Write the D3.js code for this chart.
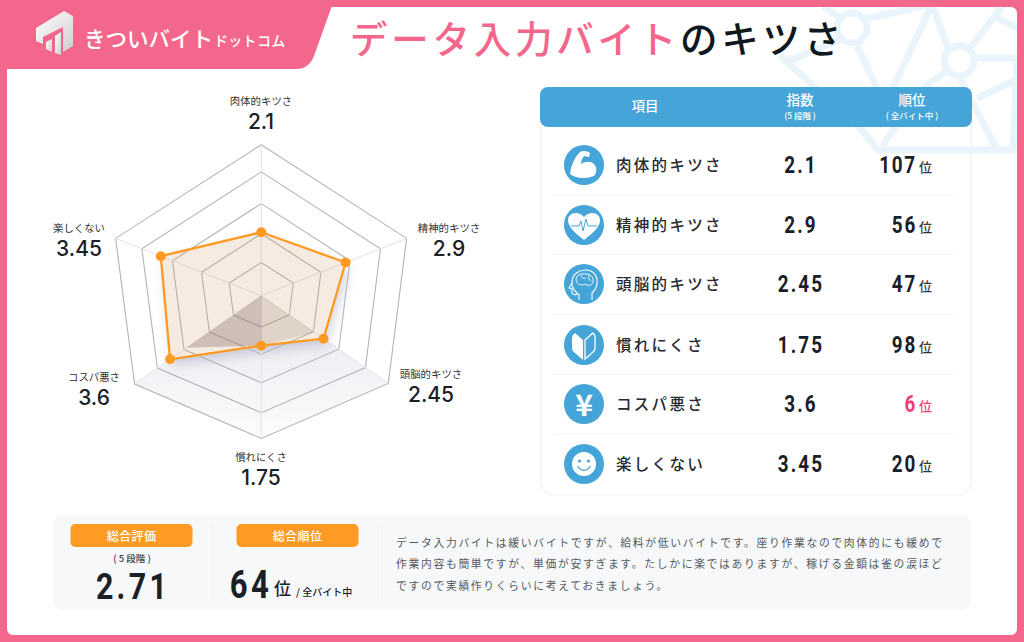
<!DOCTYPE html>
<html lang="ja">
<head>
<meta charset="utf-8">
<script src="https://cdn.jsdelivr.net/npm/d3@7"></script>
<style>
  html, body { margin: 0; padding: 0; background: #fff; overflow: hidden; }
  text { font-family: "Noto Sans CJK JP", "Noto Sans", sans-serif; }
  .num { font-family: Roboto, sans-serif; font-weight: 700; }
</style>
</head>
<body>
<div id="chart"></div>
<script>
// --- data ---
const categories = ["肉体的キツさ", "精神的キツさ", "頭脳的キツさ", "慣れにくさ", "コスパ悪さ", "楽しくない"];
const scoreLabels = ["2.1", "2.9", "2.45", "1.75", "3.6", "3.45"];
const scores = scoreLabels.map(Number);
const ranks = [107, 56, 47, 98, 6, 20];
const ringLevels = [1, 2, 3, 4, 5];
const totalScore = "2.71";
const totalRank = "64";
const comment = [
  "データ入力バイトは緩いバイトですが、給料が低いバイトです。座り作業なので肉体的にも緩めで",
  "作業内容も簡単ですが、単価が安すぎます。たしかに楽ではありますが、稼げる金額は雀の涙ほど",
  "ですので実績作りくらいに考えておきましょう。"
];

// --- layout ---
const width = 1024, height = 642;
const pink = "#f4678d", blue = "#45a5d8", orange = "#ff9a24", ink = "#1a2027";
const centre = [261.3, 295.7];
// the hexagon is drawn in perspective, so each axis has its own outer vector
const axisEnds = [[0, -151], [145.3, -57.3], [127, 87.7], [0, 142.7], [-126.7, 88.3], [-145.7, -57.3]];
const labelPos = [[261, 100], [449, 227], [431, 373], [261, 456], [94, 376], [79, 227]];
const rowY = [165, 225, 284, 345, 404, 464];

const svg = d3.select("#chart").append("svg")
  .attr("width", width).attr("height", height)
  .style("display", "block");
const defs = svg.append("defs");

// values sit on a plain 0-5 scale, the rings are a little off even in the source
const valueScale = d3.scaleLinear().domain([0, 5]).range([0, 1]);
const ringScale = d3.scaleLinear().domain([0, 1, 2, 3, 4, 5]).range([0, 0.22, 0.41, 0.61, 0.82, 1]);
const pointAt = (i, v, scale = valueScale) => [
  centre[0] + axisEnds[i][0] * scale(v),
  centre[1] + axisEnds[i][1] * scale(v)
];
const closed = d3.line().curve(d3.curveLinearClosed);

function label(g, x, y, str, size, opts = {}) {
  const t = g.append("text")
    .attr("x", x).attr("y", y)
    .attr("dominant-baseline", "central")
    .attr("text-anchor", opts.anchor || "middle")
    .attr("font-size", size)
    .attr("font-weight", opts.weight || 400)
    .attr("letter-spacing", opts.spacing || 0)
    .attr("fill", opts.fill || ink)
    .attr("class", opts.cls || null)
    .text(str);
  // numerals in the source are narrower than any installed face
  if (opts.squeeze) {
    t.attr("x", 0).attr("y", 0)
      .attr("transform", `translate(${x},${y}) scale(${opts.squeeze},1)`);
  }
  return t;
}

// --- frame ---
svg.append("rect").attr("width", width).attr("height", height).attr("fill", pink);
svg.append("rect").attr("x", 7).attr("y", 7).attr("width", 1010).attr("height", 628).attr("rx", 6).attr("fill", "#fff");
svg.append("path").attr("fill", pink)
  .attr("d", "M0,0H334L314,56Q309,69 296,69H7V80H0Z");

// background network mark
defs.append("clipPath").attr("id", "card").append("rect")
  .attr("x", 7).attr("y", 7).attr("width", 1010).attr("height", 628).attr("rx", 6);
const mark = svg.append("g").attr("clip-path", "url(#card)")
  .attr("fill", "none").attr("stroke", "#eaf5fb").attr("stroke-width", 7);
const markLines = [
  "M823,6L846,22", "M787,62L843,38", "M861,20L932,4", "M932,4L893,88", "M932,4L948,48",
  "M857,46L877,88", "M787,62L860,128L878,150H1013L1017,62", "M882,146L927,85L945,72",
  "M970,48L1004,4", "M975,58H1020", "M960,78L997,150", "M977,98L1020,78", "M993,15L1020,30", "M787,62L780,55"
];
mark.selectAll("path").data(markLines).join("path").attr("d", d => d);
mark.selectAll("circle").data([[852, 28], [959, 61]]).join("circle")
  .attr("cx", d => d[0]).attr("cy", d => d[1]).attr("r", 15).attr("fill", "#fff");

// --- logo + title ---
const logoGrad = defs.append("linearGradient").attr("id", "logoGrad")
  .attr("x1", 0).attr("y1", 0).attr("x2", 1).attr("y2", 1);
logoGrad.append("stop").attr("offset", 0).attr("stop-color", "#ffffff");
logoGrad.append("stop").attr("offset", 1).attr("stop-color", "#cfcfd2");
const logo = svg.append("g").attr("fill", "url(#logoGrad)");
logo.append("path").attr("d", "M36,28L64,11L73,16V46L63,52V27L43,37V44L36,41Z");
logo.append("path").attr("d", "M46,42L52,39V52L46,49Z");
logo.append("path").attr("d", "M55,36L61,32V55L55,53Z");
label(svg, 84, 37, "きついバイト", 21.5, { anchor: "start", fill: "#fff", weight: 500 });
label(svg, 214, 40, "ドットコム", 14, { anchor: "start", fill: "#fff", weight: 500, spacing: 0.3 });

const title = svg.append("text").attr("x", 350).attr("y", 35.5)
  .attr("dominant-baseline", "central").attr("font-size", 37.5)
  .attr("font-weight", 500).attr("letter-spacing", 3.75);
title.append("tspan").attr("fill", pink).text("データ入力バイト");
title.append("tspan").attr("fill", "#10181f").text("のキツさ");

// --- radar ---
const radar = svg.append("g");
const hexGrad = defs.append("linearGradient").attr("id", "hexGrad")
  .attr("gradientUnits", "userSpaceOnUse")
  .attr("x1", centre[0]).attr("y1", centre[1]).attr("x2", centre[0]).attr("y2", centre[1] + 142);
hexGrad.append("stop").attr("offset", 0).attr("stop-color", "#e6e7ee");
hexGrad.append("stop").attr("offset", 1).attr("stop-color", "#fcfcfd");
radar.append("path")
  .attr("d", closed([pointAt(2, 5), pointAt(3, 5), pointAt(4, 5), centre]))
  .attr("fill", "url(#hexGrad)");

defs.append("filter").attr("id", "soft")
  .attr("x", "-30%").attr("y", "-30%").attr("width", "160%").attr("height", "160%")
  .append("feGaussianBlur").attr("stdDeviation", 6);
const dataPts = scores.map((v, i) => pointAt(i, v));
radar.append("path")
  .attr("d", closed(dataPts))
  .attr("transform", "translate(3,6)")
  .attr("fill", "#6d7299").attr("opacity", 0.3)
  .attr("filter", "url(#soft)");
// keeps the shadow out of the polygon itself
radar.append("path").attr("d", closed(dataPts)).attr("fill", "#fff");

radar.selectAll(".ring").data(ringLevels).join("path")
  .attr("class", "ring")
  .attr("d", v => closed(categories.map((c, i) => pointAt(i, v, ringScale))))
  .attr("fill", "none").attr("stroke", "#b4b4b8").attr("stroke-width", 1.1);
radar.selectAll(".spoke").data(categories).join("line")
  .attr("class", "spoke")
  .attr("x1", centre[0]).attr("y1", centre[1])
  .attr("x2", (c, i) => pointAt(i, 5)[0]).attr("y2", (c, i) => pointAt(i, 5)[1])
  .attr("stroke", "#e2e2e6").attr("stroke-width", 1);

radar.append("path").attr("d", closed(dataPts))
  .attr("fill", "#d29a62").attr("fill-opacity", 0.2);
// darker wedges at the bottom of the polygon
radar.append("path")
  .attr("d", closed([centre, pointAt(2, 2.1), dataPts[3]]))
  .attr("fill", "#8a7468").attr("fill-opacity", 0.2);
radar.append("path")
  .attr("d", closed([centre, dataPts[3], pointAt(4, 2.95)]))
  .attr("fill", "#7a6468").attr("fill-opacity", 0.33);

radar.append("path").attr("d", closed(dataPts))
  .attr("fill", "none").attr("stroke", orange).attr("stroke-width", 2.3).attr("stroke-linejoin", "round");
radar.selectAll(".pt").data(dataPts).join("circle")
  .attr("class", "pt")
  .attr("cx", d => d[0]).attr("cy", d => d[1]).attr("r", 5).attr("fill", orange);

categories.forEach((c, i) => {
  label(radar, labelPos[i][0], labelPos[i][1], c, 10.4, { fill: "#333" });
  label(radar, labelPos[i][0], labelPos[i][1] + 21.5, scoreLabels[i], 21, {
    fill: ink, weight: 500
  }).style("font-family", "Inter, 'Open Sans', sans-serif");
});

// --- table ---
const table = svg.append("g");
table.append("rect").attr("x", 540.5).attr("y", 100).attr("width", 431).attr("height", 395)
  .attr("rx", 14).attr("fill", "none").attr("stroke", "#f3f3f6").attr("stroke-width", 1.2);
table.append("rect").attr("x", 540).attr("y", 87).attr("width", 432).attr("height", 40)
  .attr("rx", 8).attr("fill", blue);
label(table, 645, 105, "項目", 13.5, { fill: "#fff", weight: 500 });
label(table, 800, 99, "指数", 13.5, { fill: "#fff", weight: 500 });
label(table, 800, 115, "(5 段階 )", 8.5, { fill: "#fff", weight: 500 });
label(table, 912, 99, "順位", 13.5, { fill: "#fff", weight: 500 });
label(table, 912, 115, "( 全バイト中 )", 8.5, { fill: "#fff", weight: 500 });

table.selectAll(".sep").data(rowY.slice(0, -1)).join("line")
  .attr("class", "sep")
  .attr("x1", 553).attr("x2", 954)
  .attr("y1", (d, i) => (d + rowY[i + 1]) / 2).attr("y2", (d, i) => (d + rowY[i + 1]) / 2)
  .attr("stroke", "#f3f3f5").attr("stroke-width", 1);

// icons are drawn around (0,0), circle radius 20
const iconDraw = [
  g => g.append("path").attr("fill", "#fff")
    .attr("d", "M-14,9C-13,0 -9,-8 -4,-13C-1,-15 4,-14 6,-12L5,-8L0,-9C-2,-6 -3,-4 -3,-1C1,-4 7,-4 10,-1C13,2 13,8 10,11C2,14 -8,14 -14,9Z"),
  g => {
    g.append("path").attr("fill", "#fff")
      .attr("d", "M0,15C-7,9 -16,3 -16,-5C-16,-12 -6,-15 0,-8C6,-15 16,-12 16,-5C16,3 7,9 0,15Z");
    g.append("path").attr("fill", "none").attr("stroke", blue).attr("stroke-width", 1)
      .attr("d", "M-13,1H-5L-3,-4L-1,6L2,-6L4,1H13");
  },
  g => {
    const s = g.append("g").attr("fill", "none").attr("stroke", "#fff").attr("stroke-width", 1.1);
    s.append("path").attr("d", "M-5,16V11C-10,7 -13,3 -12,-3C-11,-11 -4,-14 2,-14C9,-14 14,-8 13,-1C13,4 10,7 8,9V16");
    s.append("path").attr("d", "M-12,-1L-15,4L-12,5V9C-11,11 -8,11 -6,10");
    s.append("path").attr("stroke-width", 0.9)
      .attr("d", "M-8,-4C-8,-9 -3,-11 2,-10C7,-10 10,-6 9,-2C8,2 3,2 1,0C-2,2 -7,1 -8,-4M-3,-9C-3,-6 0,-5 2,-6M5,-9C4,-6 5,-4 7,-3");
  },
  g => {
    g.append("path").attr("fill", "#fff").attr("d", "M-9,-12L-1,-5V15L-9,8Q-12,6 -12,3V-6Q-12,-10 -9,-12Z");
    g.append("path").attr("fill", "none").attr("stroke", "#fff").attr("stroke-width", 1.3)
      .attr("d", "M1,-5L9,-12Q12,-9 11,-5V3Q11,6 8,8L1,14Z");
  },
  g => label(g, 0, -1, "¥", 30, { fill: "#fff", weight: 700 }),
  g => {
    g.append("circle").attr("r", 12).attr("fill", "#fff");
    g.append("circle").attr("cx", -4.5).attr("cy", -3).attr("r", 1.6).attr("fill", blue);
    g.append("circle").attr("cx", 4.5).attr("cy", -3).attr("r", 1.6).attr("fill", blue);
    g.append("path").attr("fill", "none").attr("stroke", blue).attr("stroke-width", 1.4)
      .attr("stroke-linecap", "round").attr("d", "M-6,2.5C-3,7.5 3,7.5 6,2.5");
  }
];

categories.forEach((c, i) => {
  const y = rowY[i];
  const icon = table.append("g").attr("transform", `translate(584,${y})`);
  icon.append("circle").attr("r", 20).attr("fill", blue);
  iconDraw[i](icon);
  label(table, 616, y - 1, c, 15.5, { anchor: "start", weight: 500, spacing: 2.3, fill: "#26292d" });
  label(table, 801, y, scoreLabels[i], 23, { cls: "num", spacing: 2.6, fill: ink, squeeze: 0.82 });
  const top = ranks[i] === d3.min(ranks);
  label(table, 917, y, ranks[i], 23, { anchor: "end", cls: "num", spacing: 2.2, fill: top ? "#ef3f78" : ink, squeeze: 0.82 });
  label(table, 919, y + 1.5, "位", 13, { anchor: "start", weight: 500, fill: top ? "#ef3f78" : "#33383d" });
});

// --- summary panel ---
const panel = svg.append("g");
panel.append("rect").attr("x", 53).attr("y", 515).attr("width", 918).attr("height", 95)
  .attr("rx", 10).attr("fill", "#f7f8fa");
panel.selectAll(".div").data([213, 378]).join("line")
  .attr("class", "div")
  .attr("x1", d => d).attr("x2", d => d).attr("y1", 524).attr("y2", 600)
  .attr("stroke", "#f0f1f4");
[[70.5, "総合評価"], [236.5, "総合順位"]].forEach(([x, t]) => {
  panel.append("rect").attr("x", x).attr("y", 524).attr("width", 122).attr("height", 23)
    .attr("rx", 5).attr("fill", orange);
  label(panel, x + 61, 535, t, 12, { fill: "#fff", weight: 500, spacing: 0.4 });
});
label(panel, 132, 558, "( 5 段階 )", 9.5, { weight: 500, fill: "#3c4046" });
label(panel, 133, 586, totalScore, 37, { cls: "num", spacing: 4, squeeze: 0.82 });
label(panel, 251, 585, totalRank, 38, { cls: "num", spacing: 4, squeeze: 0.82 });
label(panel, 274, 587, "位", 17, { anchor: "start", weight: 500 });
label(panel, 296, 591, "/ 全バイト中", 10, { anchor: "start", weight: 500 });

comment.forEach((line, i) => {
  label(panel, 396, 542 + i * 21.3, line, 10.8, { anchor: "start", fill: "#555a60", spacing: 1.68 });
});
</script>
</body>
</html>
